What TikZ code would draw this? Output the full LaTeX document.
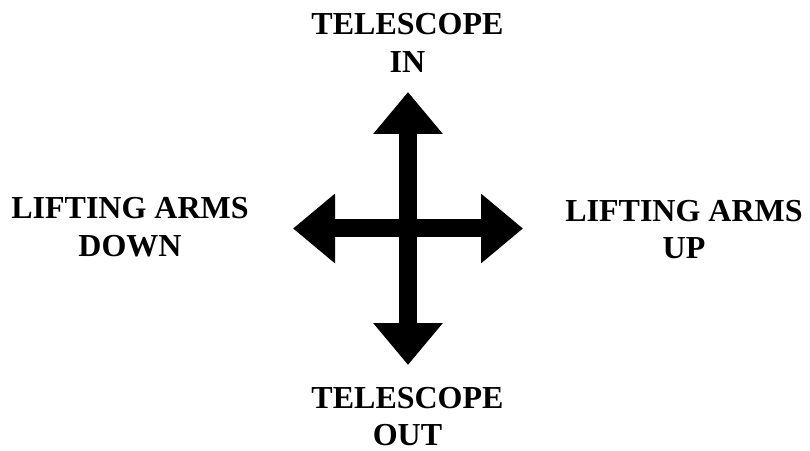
\documentclass[tikz,border=0pt]{standalone}
\usepackage{fontspec}
\setmainfont{Liberation Serif}
\usetikzlibrary{arrows.meta}
\tikzstyle{direction} = [
    align=center,
    inner sep=0pt,
    font=\fontsize{32}{37.5}\selectfont\bfseries
]
\tikzstyle{arrow} = [
    line width=18pt,
    {Triangle[length=42pt,width=67pt]}-{Triangle[length=42pt,width=67pt]}
]
\begin{document}
\begin{tikzpicture}[x=1pt, y=1pt]
\useasboundingbox (0,0) rectangle (810,450);

\coordinate (tipin) at (408,358);
\coordinate (tipout) at (408,85);
\coordinate (tipdown) at (293,221.5);
\coordinate (tipup) at (523,221.5);

\node (telin) [direction] at (407.5,407) {TELESCOPE\\IN};
\node (telout) [direction] at (407.5,33.5) {TELESCOPE\\OUT};
\node (armsdown) [direction] at (130,223) {LIFTING ARMS\\DOWN};
\node (armsup) [direction] at (684,220.5) {LIFTING ARMS\\UP};

\draw [arrow] (tipout) -- (tipin);
\draw [arrow] (tipdown) -- (tipup);

\end{tikzpicture}
\end{document}
